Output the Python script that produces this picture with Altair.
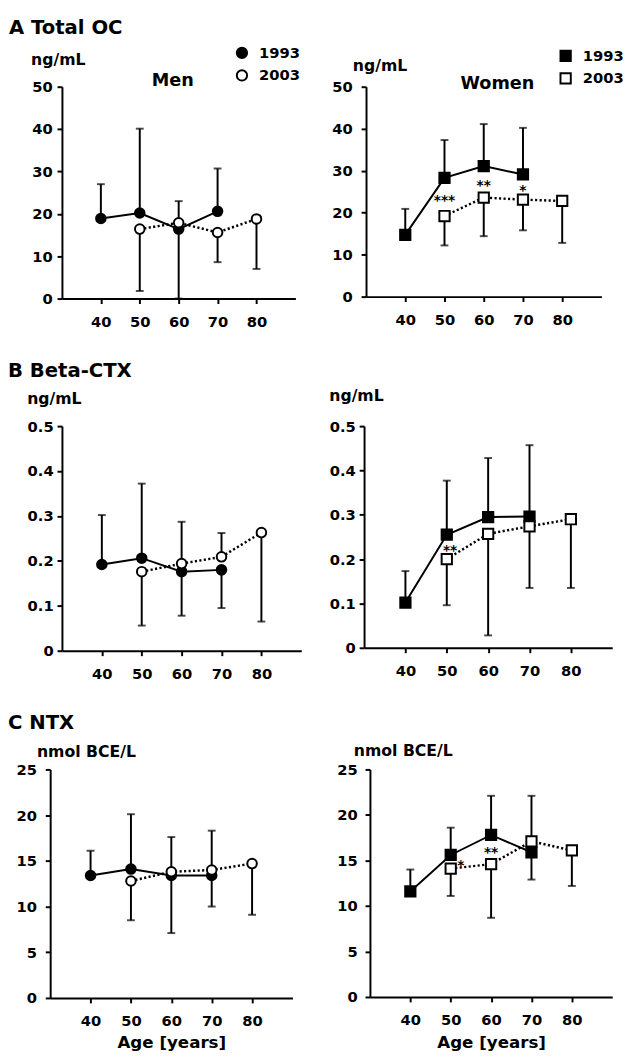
import altair as alt
import pandas as pd

FONT = "DejaVu Sans"

# ---------------- data ----------------
ages_1993 = [40, 50, 60, 70]
ages_2003 = [50, 60, 70, 80]
x_ticks = [40, 50, 60, 70, 80]
years = ["1993", "2003"]

# A  Total OC (ng/mL)  -- mean and end of the one-sided error bar
oc_men_1993 = [18.9, 20.2, 16.4, 20.6]
oc_men_1993_err = [27.0, 40.1, 0.0, 30.7]
oc_men_2003 = [16.4, 17.9, 15.6, 18.8]
oc_men_2003_err = [1.8, 23.0, 8.6, 7.0]
oc_women_1993 = [14.7, 28.3, 31.1, 29.1]
oc_women_1993_err = [20.9, 37.3, 41.1, 40.2]
oc_women_2003 = [19.2, 23.6, 23.1, 22.8]
oc_women_2003_err = [12.2, 14.4, 15.8, 12.8]
oc_women_sig = ["***", "**", "*"]
oc_women_sig_age = [50, 60, 70]
oc_women_sig_x = [50, 60, 70]

# B  Beta-CTX (ng/mL)
ctx_men_1993 = [0.192, 0.206, 0.176, 0.180]
ctx_men_1993_err = [0.302, 0.372, 0.078, 0.095]
ctx_men_2003 = [0.176, 0.194, 0.209, 0.263]
ctx_men_2003_err = [0.056, 0.287, 0.262, 0.065]
ctx_women_1993 = [0.102, 0.255, 0.295, 0.296]
ctx_women_1993_err = [0.173, 0.377, 0.428, 0.457]
ctx_women_2003 = [0.200, 0.257, 0.274, 0.290]
ctx_women_2003_err = [0.096, 0.028, 0.135, 0.135]
ctx_women_sig = ["**"]
ctx_women_sig_age = [50]
ctx_women_sig_x = [50.8]

# C  NTX (nmol BCE/L)
ntx_men_1993 = [13.4, 14.1, 13.4, 13.4]
ntx_men_1993_err = [16.1, 20.1, 7.1, 10.0]
ntx_men_2003 = [12.8, 13.8, 14.0, 14.7]
ntx_men_2003_err = [8.5, 17.6, 18.3, 9.1]
ntx_women_1993 = [11.6, 15.6, 17.8, 15.9]
ntx_women_1993_err = [14.0, 18.6, 22.1, 12.9]
ntx_women_2003 = [14.1, 14.6, 17.1, 16.1]
ntx_women_2003_err = [11.1, 8.7, 22.1, 12.2]
ntx_women_sig = ["*", "**"]
ntx_women_sig_age = [50, 60]
ntx_women_sig_x = [52.5, 60]

y_oc = [0, 10, 20, 30, 40, 50]
y_ctx = [0, 0.1, 0.2, 0.3, 0.4, 0.5]
y_ntx = [0, 5, 10, 15, 20, 25]


def panel(v93, e93, v03, e03, shape, yvals, unit, width, height,
          tx, ty, lpad, xtitle=None, title=None, legend=None, sig=None, shift=0):
    df = pd.DataFrame({
        "age": ages_1993 + ages_2003,
        "value": v93 + v03,
        "err": e93 + e03,
        "year": ["1993"] * 4 + ["2003"] * 4,
    })
    xaxis = alt.Axis(values=x_ticks, title=xtitle, format="d", labelPadding=11,
                     titlePadding=7, titleFontSize=17)
    yaxis = alt.Axis(values=yvals, title=unit, titleAngle=0, titleAlign="left",
                     titleBaseline="alphabetic", titleX=tx, titleY=ty,
                     labelPadding=lpad, offset=shift,
                     labelExpr="datum.value == 0 ? '0' : datum.label")
    if shift:
        xs = alt.Scale(domain=[30, 90], nice=False, range=[-shift, width])
    else:
        xs = alt.Scale(domain=[30, 90], nice=False)
    ys = alt.Scale(domain=[0, yvals[-1]], nice=False)
    x = alt.X("age:Q", scale=xs, axis=xaxis)
    y = alt.Y("value:Q", scale=ys, axis=yaxis)
    base = alt.Chart(df)
    bars = base.mark_rule(color="black", strokeWidth=2).encode(x=x, y=y, y2="err:Q")
    caps = base.mark_tick(color="black", orient="horizontal", size=8, thickness=2).encode(
        x=x, y=alt.Y("err:Q", scale=ys, axis=yaxis))
    line93 = base.transform_filter(alt.datum.year == "1993").mark_line(
        color="black", strokeWidth=2).encode(x=x, y=y)
    line03 = base.transform_filter(alt.datum.year == "2003").mark_line(
        color="black", strokeWidth=2.5, strokeDash=[2.2, 2.4]).encode(x=x, y=y)
    if legend is not None:
        leg = alt.Legend(title=None, orient="none", legendX=legend[0], legendY=legend[1],
                         symbolType=shape, symbolSize=110, symbolStrokeColor="black",
                         symbolStrokeWidth=2, labelFont=FONT, labelFontSize=15,
                         labelFontWeight="bold", labelColor="black", rowPadding=4,
                         labelOffset=10, padding=0)
    else:
        leg = None
    points = base.mark_point(shape=shape, size=110 if shape == "square" else 95,
                             stroke="black", strokeWidth=2, opacity=1).encode(
        x=x, y=y,
        fill=alt.Fill("year:N", scale=alt.Scale(domain=years, range=["black", "white"]), legend=leg))
    layers = [bars, caps, line93, line03, points]
    if sig is not None:
        labels, ref_ages, sx = sig
        mids = []
        for a in ref_ages:
            m1 = v93[ages_1993.index(a)]
            m2 = v03[ages_2003.index(a)]
            mids.append((m1 + m2) / 2)
        sdf = pd.DataFrame({"age": sx, "value": mids, "label": labels})
        stars = alt.Chart(sdf).mark_text(font=FONT, fontSize=14, fontWeight="bold",
                                         baseline="middle", dy=4, color="black").encode(
            x=x, y=y, text="label:N")
        layers.append(stars)
    ch = alt.layer(*layers).properties(width=width, height=height)
    if title is not None:
        ch = ch.properties(title=alt.TitleParams(text=title[0], anchor="middle", dx=title[1],
                                                 offset=title[2], baseline="alphabetic",
                                                 fontSize=18, font=FONT, fontWeight="bold",
                                                 color="black"))
    return ch


def row(left, right, spacing, text, dx, offset):
    return alt.hconcat(left, right, spacing=spacing).properties(
        title=alt.TitleParams(text=text, anchor="start", frame="group", dx=dx, offset=offset,
                              baseline="alphabetic", fontSize=20, font=FONT,
                              fontWeight="bold", color="black")
    ).resolve_scale(x="independent", y="independent", fill="independent"
                    ).resolve_legend(fill="independent")


a_men = panel(oc_men_1993, oc_men_1993_err, oc_men_2003, oc_men_2003_err, "circle", y_oc,
              "ng/mL", 238, 216, -32, -23, 5, title=("Men", -6, -59), legend=(176, -42))
a_women = panel(oc_women_1993, oc_women_1993_err, oc_women_2003, oc_women_2003_err, "square", y_oc,
                "ng/mL", 240, 214, -14, -17, 9, title=("Women", 14, -59), legend=(196, -39),
                sig=(oc_women_sig, oc_women_sig_age, oc_women_sig_x))
b_men = panel(ctx_men_1993, ctx_men_1993_err, ctx_men_2003, ctx_men_2003_err, "circle", y_ctx,
              "ng/mL", 244, 229, -36, -23, 4)
b_women = panel(ctx_women_1993, ctx_women_1993_err, ctx_women_2003, ctx_women_2003_err, "square", y_ctx,
                "ng/mL", 253, 226, -36, -26, 4,
                sig=(ctx_women_sig, ctx_women_sig_age, ctx_women_sig_x))
c_men = panel(ntx_men_1993, ntx_men_1993_err, ntx_men_2003, ntx_men_2003_err, "circle", y_ntx,
              "nmol BCE/L", 235, 233, -14, -13, 9, xtitle="Age [years]", shift=12)
c_women = panel(ntx_women_1993, ntx_women_1993_err, ntx_women_2003, ntx_women_2003_err, "square", y_ntx,
                "nmol BCE/L", 247, 232, -17, -14, 8, xtitle="Age [years]",
                sig=(ntx_women_sig, ntx_women_sig_age, ntx_women_sig_x))

chart = alt.concat(
    row(a_men, a_women, 32, "A  Total OC", -54, -8),
    row(b_men, b_women, 28, "B  Beta-CTX", -55, -9),
    row(c_men, c_women, 33, "C  NTX", -55, -6),
    columns=1, align="none", spacing=33,
).resolve_scale(x="independent", y="independent", fill="independent"
                ).resolve_legend(fill="independent").properties(
    padding={"left": 0, "top": 0, "right": 0, "bottom": 0}
).configure_axis(
    domainColor="black", domainWidth=2, tickColor="black", tickWidth=2, tickSize=5,
    labelFont=FONT, labelFontSize=15, labelFontWeight="bold", labelColor="black",
    titleFont=FONT, titleFontWeight="bold", titleColor="black", titleFontSize=16, grid=False
).configure_view(stroke=None).configure_title(font=FONT, color="black")

chart.save("out.html", embed_options={"renderer": "svg", "actions": False})
